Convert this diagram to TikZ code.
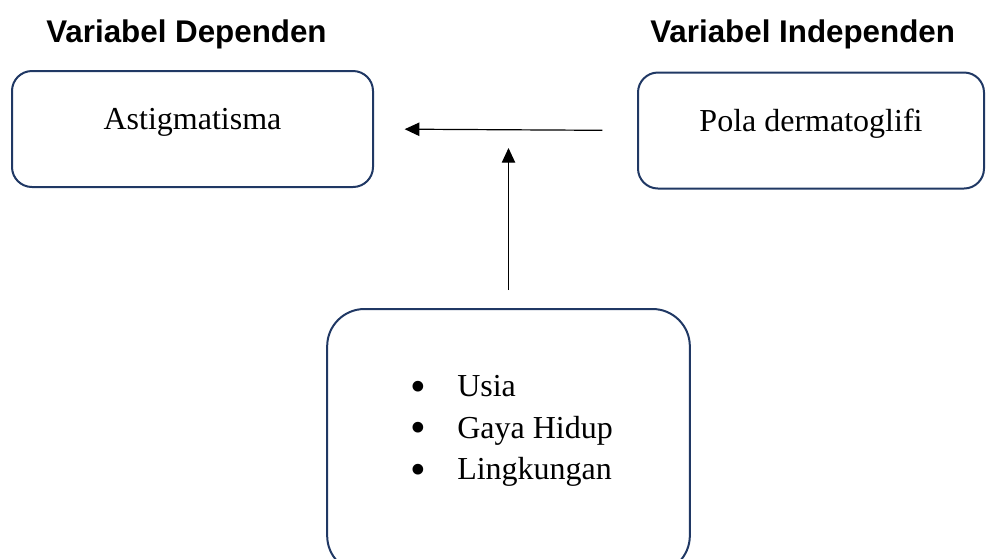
\documentclass[tikz,border=0pt]{standalone}
\usepackage{fontspec}
\setmainfont{Liberation Serif}
\setsansfont{Liberation Sans}
\usepackage{tikz}
\usetikzlibrary{arrows.meta,shapes,positioning}
\definecolor{garisbiru}{HTML}{203864}
\newcommand{\butir}{\raisebox{-3.5pt}{\scalebox{1.4}{\textbullet}}\hspace{23.5pt}}
\tikzstyle{varbox} = [rectangle, rounded corners=15pt, draw=garisbiru, line width=1.5pt, minimum width=270.75pt, minimum height=87pt, text height=12pt, text depth=11pt, font=\fontsize{24}{30}\selectfont]
\tikzstyle{faktorbox} = [rectangle, rounded corners=28pt, draw=garisbiru, line width=1.5pt, minimum width=272pt, minimum height=198pt]
\tikzstyle{judul} = [font=\sffamily\bfseries\fontsize{23.5}{28}\selectfont, anchor=base west, inner sep=0pt]
\tikzstyle{isidaftar} = [font=\fontsize{24}{31}\selectfont, align=left, anchor=west, inner sep=0pt]
\tikzstyle{arrow} = [line width=0.9pt, -{Triangle[length=11pt,width=10pt]}]

\begin{document}
\begin{tikzpicture}[x=0.75pt, y=-0.75pt]
                        \clip (0,0) rectangle (987,558);
                        \node (judulkiri) [judul] at (46,42) {Variabel Dependen};
                        \node (judulkanan) [judul] at (650,42) {Variabel Independen};
                        \node (astig) [varbox] at (192.5,129) {Astigmatisma};
                        \node (pola) [varbox, minimum width=259.5pt] at (811,130.5) {Pola dermatoglifi};
                        \node (faktor) [faktorbox] at (508.5,441) {};
                        \node (daftar) [isidaftar] at (410,431) {\butir Usia\\\butir Gaya Hidup\\\butir Lingkungan};
                        \coordinate (temu) at (faktor.north |- 0,148);
                        \draw [arrow, shorten <=26pt, shorten >=23pt] (pola.west) -- (astig.east);
                        \draw [arrow, shorten <=13.5pt] (faktor.north) -- (temu);
                    \end{tikzpicture}
\end{document}
